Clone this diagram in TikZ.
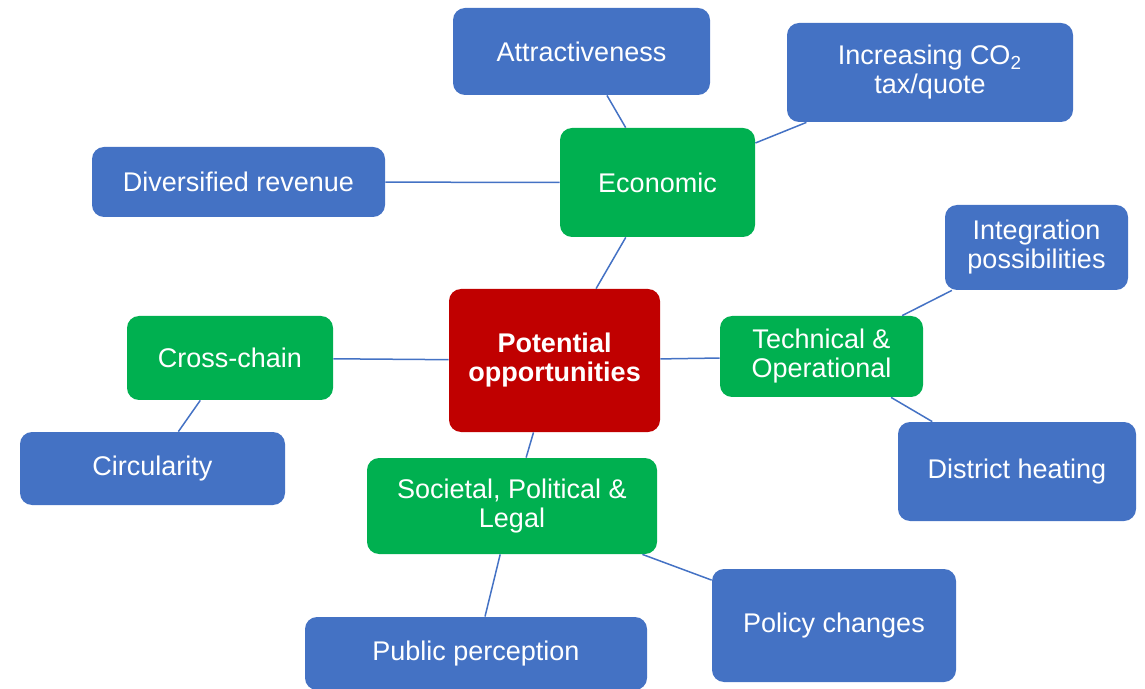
\documentclass[tikz,border=0pt]{standalone}
\usepackage{fontspec}
\setmainfont{Liberation Sans}
\usepackage{tikz}

\definecolor{boxblue}{HTML}{4472C4}
\definecolor{boxgreen}{HTML}{00B050}
\definecolor{boxred}{HTML}{C00000}

\begin{document}
\begin{tikzpicture}[x=0.5pt, y=-0.5pt,
  box/.style={rectangle, rounded corners=6pt, inner sep=0pt, align=center,
    text=white, font=\fontsize{13.5}{14.5}\selectfont},
  leaf/.style={box, fill=boxblue},
  cat/.style={box, fill=boxgreen},
  hub/.style={box, fill=boxred, font=\fontsize{13.5}{14.5}\selectfont\bfseries},
  link/.style={draw=boxblue, line width=0.75pt}]
\clip (0,0) rectangle (1145,689);
% centre and the four groups
\node (pot) [hub, minimum width=105.5pt, minimum height=71.5pt] at (554.5,360.5) {Potential\\opportunities};
\node (econ) [cat, minimum width=97.5pt, minimum height=54.5pt] at (657.5,182.5) {Economic};
\node (cross) [cat, minimum width=103pt, minimum height=42pt] at (230,358) {Cross-chain};
\node (tech) [cat, minimum width=101.5pt, minimum height=40.5pt] at (821.5,356.5) {Technical \&\\Operational};
\node (soc) [cat, minimum width=145pt, minimum height=48pt] at (512,506) {Societal, Political \&\\Legal};
% leaves
\node (attr) [leaf, minimum width=128.5pt, minimum height=43.5pt] at (581.5,51.5) {Attractiveness};
\node (co2) [leaf, minimum width=143pt, minimum height=49.5pt] at (930,72.5) {Increasing CO\textsubscript{2}\\tax/quote};
\node (rev) [leaf, minimum width=146.5pt, minimum height=35pt] at (238.5,182) {Diversified revenue};
\node (circ) [leaf, minimum width=132.5pt, minimum height=36.5pt] at (152.5,468.5) {Circularity};
\node (integ) [leaf, minimum width=91.5pt, minimum height=42.5pt] at (1036.5,247.5) {Integration\\possibilities};
\node (heat) [leaf, minimum width=119pt, minimum height=49.5pt] at (1017,471.5) {District heating};
\node (policy) [leaf, minimum width=122pt, minimum height=56.5pt] at (834,625.5) {Policy changes};
\node (public) [leaf, minimum width=171pt, minimum height=36.5pt] at (476,653.5) {Public perception};
% connectors
\draw[link] (pot) -- (econ);
\draw[link] (pot) -- (cross);
\draw[link] (pot) -- (tech);
\draw[link] (pot) -- (soc);
\draw[link] (econ) -- (attr);
\draw[link] (econ) -- (co2);
\draw[link] (econ) -- (rev);
\draw[link] (cross) -- (circ);
\draw[link] (tech) -- (integ);
\draw[link] (tech) -- (heat);
\draw[link] (soc) -- (public);
\draw[link] (soc) -- (policy);
\end{tikzpicture}
\end{document}
